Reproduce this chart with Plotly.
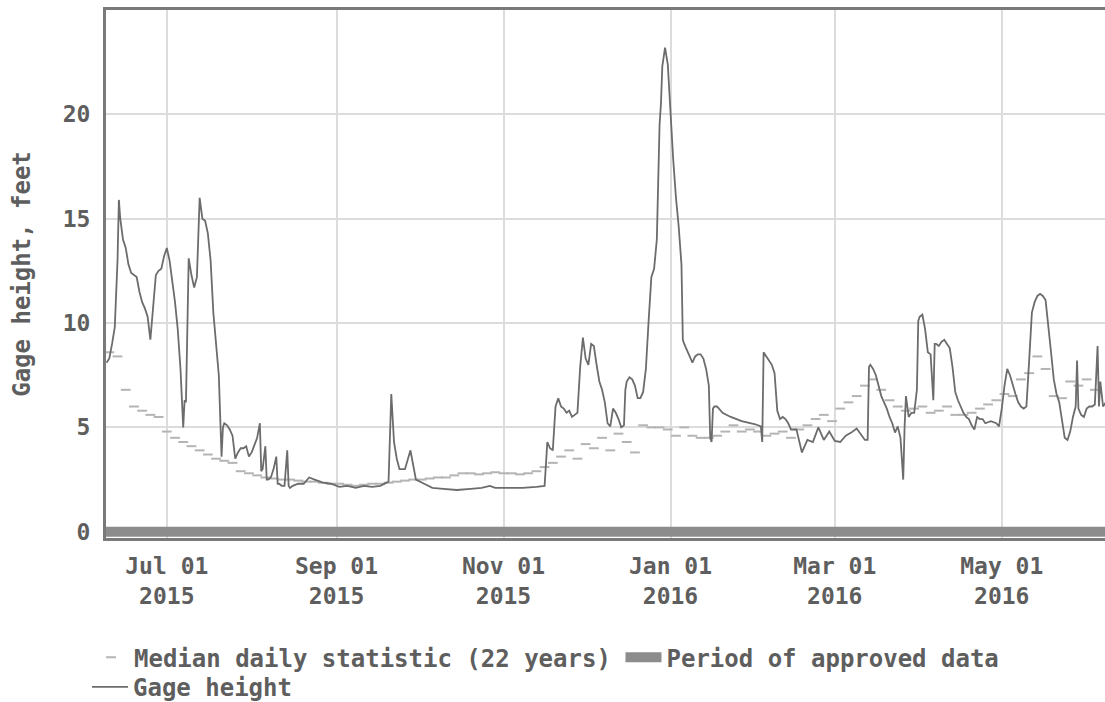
import pandas as pd
import plotly.graph_objects as go

# ---------------- data ----------------
tick_dates = ["2015-07-01", "2015-09-01", "2015-11-01", "2016-01-01", "2016-03-01", "2016-05-01"]
tick_labels = ["Jul 01<br>2015", "Sep 01<br>2015", "Nov 01<br>2015",
               "Jan 01<br>2016", "Mar 01<br>2016", "May 01<br>2016"]
y_ticks = [0, 5, 10, 15, 20]

# Gage height readings (feet)
gage_dates = [
    # Jun 2015
    "2015-06-09", "2015-06-10", "2015-06-11", "2015-06-12", "2015-06-13", "2015-06-13 12:00",
    "2015-06-14", "2015-06-15", "2015-06-16", "2015-06-17", "2015-06-18", "2015-06-19",
    "2015-06-20", "2015-06-21", "2015-06-22", "2015-06-23", "2015-06-24", "2015-06-25",
    "2015-06-26", "2015-06-27", "2015-06-28", "2015-06-29", "2015-06-30",
    # Jul 2015
    "2015-07-01", "2015-07-02", "2015-07-03", "2015-07-04", "2015-07-05", "2015-07-06",
    "2015-07-07", "2015-07-07 12:00", "2015-07-08", "2015-07-08 18:00", "2015-07-09",
    "2015-07-10", "2015-07-11", "2015-07-12", "2015-07-13", "2015-07-14", "2015-07-15",
    "2015-07-16", "2015-07-17", "2015-07-18", "2015-07-19", "2015-07-20", "2015-07-21",
    "2015-07-21 12:00", "2015-07-22", "2015-07-23", "2015-07-24", "2015-07-25", "2015-07-26",
    "2015-07-27", "2015-07-28", "2015-07-29", "2015-07-30", "2015-07-31",
    # Aug 2015
    "2015-08-01", "2015-08-02", "2015-08-03", "2015-08-04", "2015-08-04 12:00", "2015-08-05",
    "2015-08-06", "2015-08-06 12:00", "2015-08-07", "2015-08-08", "2015-08-09", "2015-08-10",
    "2015-08-10 12:00", "2015-08-11", "2015-08-12", "2015-08-13", "2015-08-14",
    "2015-08-14 12:00", "2015-08-15", "2015-08-16", "2015-08-18", "2015-08-20", "2015-08-22",
    "2015-08-24", "2015-08-27", "2015-08-30",
    # Sep 2015
    "2015-09-02", "2015-09-05", "2015-09-08", "2015-09-11", "2015-09-14", "2015-09-17",
    "2015-09-20", "2015-09-21", "2015-09-22", "2015-09-23", "2015-09-24", "2015-09-26",
    "2015-09-28", "2015-09-29", "2015-09-30",
    # Oct 2015
    "2015-10-03", "2015-10-06", "2015-10-10", "2015-10-15", "2015-10-20", "2015-10-24",
    "2015-10-27", "2015-10-29",
    # Nov 2015
    "2015-11-03", "2015-11-08", "2015-11-13", "2015-11-16", "2015-11-17", "2015-11-18",
    "2015-11-19", "2015-11-20", "2015-11-21", "2015-11-22", "2015-11-23", "2015-11-24",
    "2015-11-25", "2015-11-26", "2015-11-27", "2015-11-28", "2015-11-29", "2015-11-30",
    # Dec 2015
    "2015-12-01", "2015-12-02", "2015-12-03", "2015-12-04", "2015-12-05", "2015-12-06",
    "2015-12-07", "2015-12-08", "2015-12-09", "2015-12-10", "2015-12-11", "2015-12-12",
    "2015-12-13", "2015-12-14", "2015-12-15", "2015-12-15 12:00", "2015-12-16", "2015-12-17",
    "2015-12-18", "2015-12-19", "2015-12-20", "2015-12-21", "2015-12-22", "2015-12-23",
    "2015-12-24", "2015-12-25", "2015-12-26", "2015-12-27", "2015-12-28", "2015-12-28 12:00",
    "2015-12-29", "2015-12-30", "2015-12-31",
    # Jan 2016
    "2016-01-01", "2016-01-02", "2016-01-03", "2016-01-04", "2016-01-05", "2016-01-05 12:00",
    "2016-01-06", "2016-01-07", "2016-01-08", "2016-01-09", "2016-01-10", "2016-01-11",
    "2016-01-12", "2016-01-13", "2016-01-14", "2016-01-15", "2016-01-15 12:00", "2016-01-16",
    "2016-01-16 12:00", "2016-01-17", "2016-01-18", "2016-01-20", "2016-01-23", "2016-01-27",
    # Feb 2016
    "2016-02-01", "2016-02-02", "2016-02-03", "2016-02-03 12:00", "2016-02-04", "2016-02-05",
    "2016-02-06", "2016-02-07", "2016-02-08", "2016-02-09", "2016-02-10", "2016-02-11",
    "2016-02-12", "2016-02-13", "2016-02-14", "2016-02-16", "2016-02-18", "2016-02-20",
    "2016-02-22", "2016-02-24", "2016-02-26", "2016-02-28",
    # Mar 2016
    "2016-03-01", "2016-03-03", "2016-03-05", "2016-03-07", "2016-03-09", "2016-03-11",
    "2016-03-12", "2016-03-13", "2016-03-13 12:00", "2016-03-14", "2016-03-15", "2016-03-16",
    "2016-03-17", "2016-03-18", "2016-03-19", "2016-03-20", "2016-03-21", "2016-03-22",
    "2016-03-23", "2016-03-24", "2016-03-25", "2016-03-25 12:00", "2016-03-26",
    "2016-03-26 12:00", "2016-03-27", "2016-03-28", "2016-03-29", "2016-03-30", "2016-03-31",
    "2016-03-31 12:00",
    # Apr 2016
    "2016-04-01", "2016-04-02", "2016-04-03", "2016-04-04", "2016-04-05", "2016-04-06",
    "2016-04-06 12:00", "2016-04-07", "2016-04-08", "2016-04-09", "2016-04-10", "2016-04-11",
    "2016-04-12", "2016-04-13", "2016-04-14", "2016-04-15", "2016-04-16", "2016-04-17",
    "2016-04-18", "2016-04-19", "2016-04-20", "2016-04-21", "2016-04-22", "2016-04-23",
    "2016-04-24", "2016-04-25", "2016-04-27", "2016-04-29", "2016-04-30",
    # May 2016
    "2016-05-01", "2016-05-02", "2016-05-03", "2016-05-04", "2016-05-05", "2016-05-06",
    "2016-05-07", "2016-05-08", "2016-05-09", "2016-05-10", "2016-05-11", "2016-05-12",
    "2016-05-13", "2016-05-14", "2016-05-15", "2016-05-16", "2016-05-17", "2016-05-18",
    "2016-05-19", "2016-05-20", "2016-05-21", "2016-05-22", "2016-05-23", "2016-05-24",
    "2016-05-25", "2016-05-26", "2016-05-27", "2016-05-28", "2016-05-28 12:00", "2016-05-29",
    "2016-05-30", "2016-05-31",
    # Jun 2016
    "2016-06-01", "2016-06-02", "2016-06-03", "2016-06-04", "2016-06-05", "2016-06-05 12:00",
    "2016-06-06", "2016-06-07", "2016-06-08",
]
gage_values = [
    # Jun 2015
    8.1, 8.3, 9.0, 9.8, 13.0, 15.9,
    15.0, 14.0, 13.6, 12.8, 12.4, 12.3,
    12.2, 11.5, 11.0, 10.7, 10.3, 9.2,
    10.8, 12.3, 12.5, 12.6, 13.2,
    # Jul 2015
    13.6, 13.0, 12.0, 11.0, 9.7, 7.8,
    5.0, 6.3, 6.2, 12.4, 13.1,
    12.3, 11.7, 12.2, 16.0, 15.0, 14.9,
    14.3, 13.0, 10.5, 9.0, 7.5, 3.6,
    5.0, 5.2, 5.1, 4.9, 4.6, 3.5,
    3.8, 4.0, 4.0, 4.1, 3.6,
    # Aug 2015
    3.8, 4.2, 4.5, 5.2, 2.9, 3.0,
    4.1, 2.5, 2.5, 2.6, 3.0, 3.6,
    2.3, 2.3, 2.2, 2.2, 3.9,
    2.2, 2.1, 2.2, 2.3, 2.3, 2.6,
    2.5, 2.35, 2.3,
    # Sep 2015
    2.15, 2.2, 2.1, 2.2, 2.15, 2.2,
    2.4, 6.6, 4.3, 3.5, 3.0, 3.0,
    3.9, 3.2, 2.5,
    # Oct 2015
    2.3, 2.1, 2.05, 2.0, 2.05, 2.1,
    2.2, 2.1,
    # Nov 2015
    2.1, 2.1, 2.15, 2.2, 4.3, 4.0,
    3.9, 6.0, 6.4, 6.0, 5.9, 5.7,
    5.8, 5.5, 5.6, 5.7, 7.9, 9.3,
    # Dec 2015
    8.3, 8.0, 9.0, 8.9, 8.0, 7.2,
    6.8, 6.2, 5.2, 5.05, 5.9, 5.7,
    5.4, 5.0, 5.1, 6.8, 7.2, 7.4,
    7.3, 7.0, 6.4, 6.4, 6.7, 7.8,
    10.1, 12.2, 12.6, 14.0, 19.5, 20.5,
    22.3, 23.2, 22.4,
    # Jan 2016
    20.0, 17.8, 16.0, 14.6, 12.8, 9.2,
    9.0, 8.7, 8.4, 8.1, 8.4, 8.5,
    8.5, 8.3, 7.8, 7.0, 4.5, 4.3,
    5.9, 6.0, 6.0, 5.7, 5.5, 5.3,
    # Feb 2016
    5.15, 5.1, 5.05, 4.3, 8.6, 8.4,
    8.2, 8.0, 7.6, 5.8, 5.4, 5.5,
    5.4, 5.2, 4.9, 4.9, 3.8, 4.4,
    4.3, 5.0, 4.4, 4.8,
    # Mar 2016
    4.35, 4.3, 4.6, 4.75, 4.95, 4.6,
    4.4, 4.4, 7.9, 8.0, 7.8, 7.5,
    7.0, 6.5, 6.2, 5.9, 5.5, 5.2,
    4.75, 5.05, 4.5, 3.6, 2.5,
    5.0, 6.5, 5.5, 5.7, 5.7, 6.8,
    10.1,
    # Apr 2016
    10.3, 10.4, 9.7, 8.6, 8.5, 6.3,
    9.0, 9.0, 8.9, 9.1, 9.2, 9.0,
    8.8, 7.9, 6.7, 6.3, 6.0, 5.7,
    5.5, 5.4, 5.1, 4.9, 5.5, 5.4,
    5.4, 5.2, 5.3, 5.2, 5.05,
    # May 2016
    5.9, 7.0, 7.8, 7.5, 7.0, 6.6,
    6.2, 6.0, 5.9, 6.0, 8.2, 10.5,
    11.0, 11.3, 11.4, 11.3, 11.1, 10.0,
    8.6, 7.3, 6.6, 6.2, 5.4, 4.5,
    4.4, 4.8, 5.5, 6.0, 8.2, 5.9,
    5.6, 5.5,
    # Jun 2016
    5.9, 6.0, 6.0, 6.1, 8.9, 6.0,
    7.2, 6.0, 6.2,
]

# Median daily statistic (22 years), read every third day from 2015-06-07
median_start = "2015-06-07"
median_values = [
    6.7, 8.6, 8.4, 6.8, 6.0, 5.8, 5.6, 5.5, 4.8, 4.5,
    4.3, 4.1, 3.9, 3.7, 3.5, 3.4, 3.3, 2.9, 2.8, 2.7,
    2.6, 2.55, 2.5, 2.5, 2.45, 2.4, 2.4, 2.35, 2.3, 2.3,
    2.25, 2.2, 2.25, 2.3, 2.3, 2.35, 2.4, 2.45, 2.5, 2.5,
    2.55, 2.6, 2.6, 2.7, 2.8, 2.8, 2.75, 2.8, 2.85, 2.8,
    2.8, 2.75, 2.8, 2.9, 3.1, 3.3, 3.6, 3.9, 3.5, 4.2,
    4.0, 4.5, 3.9, 4.7, 4.3, 3.8, 5.1, 5.0, 5.0, 4.9,
    4.6, 5.0, 4.6, 4.5, 4.5, 4.6, 4.8, 5.1, 4.8, 4.9,
    4.8, 4.6, 4.7, 4.8, 4.5, 4.9, 5.1, 5.4, 5.6, 5.3,
    5.9, 6.2, 6.5, 7.0, 7.3, 6.8, 6.3, 6.0, 5.8, 5.9,
    6.0, 5.7, 5.8, 6.0, 5.6, 5.6, 5.7, 5.9, 6.1, 6.3,
    6.6, 6.5, 7.3, 7.6, 8.4, 7.8, 6.5, 6.4, 7.2, 7.0,
    7.3, 6.8,
]
median_dates = pd.date_range(median_start, periods=len(median_values), freq="3D")

# Period of approved data
approved_dates = ["2015-06-01", "2016-06-15"]
approved_values = [0, 0]

x_range = ["2015-06-08 19:00", "2016-06-07 17:00"]
y_range = [-0.3, 25]

# ---------------- figure ----------------
FONT = "DejaVu Sans Mono"
TXT = "#5e5e5e"
LEG_FONT = dict(family=FONT, size=24, color=TXT, weight="bold")

fig = go.Figure()

fig.add_trace(go.Scatter(
    x=median_dates, y=median_values, mode="markers",
    name="Median daily statistic (22 years)",
    marker=dict(symbol="line-ew", size=7, color="#b4b4b4",
                line=dict(color="#b4b4b4", width=2)),
    legend="legend",
))
fig.add_trace(go.Scatter(
    x=approved_dates, y=approved_values, mode="lines",
    name="Period of approved data",
    line=dict(color="#8c8c8c", width=10),
    legend="legend3",
))
fig.add_trace(go.Scatter(
    x=gage_dates, y=gage_values, mode="lines",
    name="Gage height",
    line=dict(color="#6c6c6c", width=1.8),
    legend="legend2",
))

fig.update_layout(
    width=1105, height=702,
    margin=dict(l=106, r=0, t=10, b=164, autoexpand=False),
    paper_bgcolor="white", plot_bgcolor="white",
    font=dict(family=FONT, size=23, color=TXT, weight="bold"),
    legend=dict(orientation="h", x=-0.018, y=-0.184, xanchor="left", yanchor="top",
                font=LEG_FONT, bgcolor="rgba(0,0,0,0)", itemwidth=36),
    legend3=dict(orientation="h", x=0.515, y=-0.184, xanchor="left", yanchor="top",
                 font=LEG_FONT, bgcolor="rgba(0,0,0,0)", itemwidth=36),
    legend2=dict(orientation="h", x=-0.019, y=-0.24, xanchor="left", yanchor="top",
                 font=LEG_FONT, bgcolor="rgba(0,0,0,0)", itemwidth=36),
    showlegend=True,
)

fig.update_xaxes(
    type="date", range=x_range,
    tickmode="array", tickvals=tick_dates, ticktext=tick_labels,
    tickfont=dict(family=FONT, size=23, color=TXT, weight="bold"),
    showgrid=True, gridcolor="#dcdcdc", gridwidth=1.5,
    showline=True, linecolor="#7a7a7a", linewidth=3, mirror=True,
    ticks="", ticklabelstandoff=5, zeroline=False,
)
fig.update_yaxes(
    range=y_range,
    tickmode="array", tickvals=y_ticks, ticktext=[str(v) for v in y_ticks],
    tickfont=dict(family=FONT, size=23, color=TXT, weight="bold"),
    showgrid=True, gridcolor="#dcdcdc", gridwidth=1.5,
    showline=True, linecolor="#7a7a7a", linewidth=3,
    ticks="", ticklabelstandoff=8, zeroline=False,
    title=dict(text="Gage height, feet", standoff=26,
               font=dict(family=FONT, size=24, color=TXT, weight="bold")),
)

fig.write_html("out.html")
